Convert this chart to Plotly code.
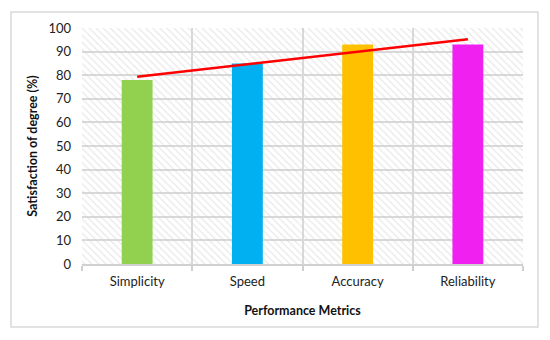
import plotly.graph_objects as go

categories = ["Simplicity", "Speed", "Accuracy", "Reliability"]
satisfaction = [78, 85, 93, 93]
bar_colors = ["#92d050", "#00b0f0", "#ffc000", "#f020f0"]
trend = [79.3, 84.6, 89.9, 95.2]
background_fill = [100, 100, 100, 100]
y_ticks = list(range(0, 101, 10))

FONT = "Lato"

fig = go.Figure()

# hatched plot background
fig.add_trace(go.Bar(
    x=categories, y=background_fill, width=1,
    marker=dict(color="rgba(0,0,0,0)", line=dict(width=0),
                pattern=dict(shape="\\", fgcolor="#cfcfcf", size=5, solidity=0.22)),
    hoverinfo="skip", showlegend=False,
))

fig.add_trace(go.Bar(
    x=categories, y=satisfaction, marker=dict(color=bar_colors, line=dict(width=0)),
    width=0.28, showlegend=False,
))

fig.add_trace(go.Scatter(
    x=categories, y=trend, mode="lines",
    line=dict(color="#ff0000", width=2.5), showlegend=False,
))

fig.update_layout(
    width=542, height=332,
    barmode="overlay",
    margin=dict(l=74, r=27, t=20, b=76),
    paper_bgcolor="white", plot_bgcolor="white",
    font=dict(family=FONT, size=13, color="#222"),
    xaxis=dict(
        type="category", tickson="boundaries", showgrid=True, automargin=False,
        gridcolor="#d9d9d9", gridwidth=1.5,
        showline=True, linecolor="#d0d0d0", linewidth=1.5,
        ticks="outside", ticklen=5, tickcolor="#d0d0d0", tickwidth=1.5,
        tickfont=dict(family=FONT, size=13, color="#222"),
        ticklabelstandoff=5,
        title=dict(text="<b>Performance Metrics</b>", font=dict(family=FONT, size=12.5, color="#111"),
                   standoff=18),
        range=[-0.5, 3.5], zeroline=False,
    ),
    yaxis=dict(
        range=[0, 100], tickvals=y_ticks, showgrid=True, automargin=False,
        gridcolor="#d9d9d9", gridwidth=1.5, zeroline=False,
        showline=False,
        tickfont=dict(family=FONT, size=13, color="#222"),
        ticklabelstandoff=10,
        title=dict(text="<b>Satisfaction of degree (%)</b>", font=dict(family=FONT, size=12.5, color="#111"),
                   standoff=8),
    ),
    shapes=[dict(type="rect", xref="paper", yref="paper",
                 x0=-0.161, x1=1.034, y0=-0.267, y1=1.068,
                 line=dict(color="#d9d9d9", width=1.5), layer="below")],
)

fig.write_html("out.html")
